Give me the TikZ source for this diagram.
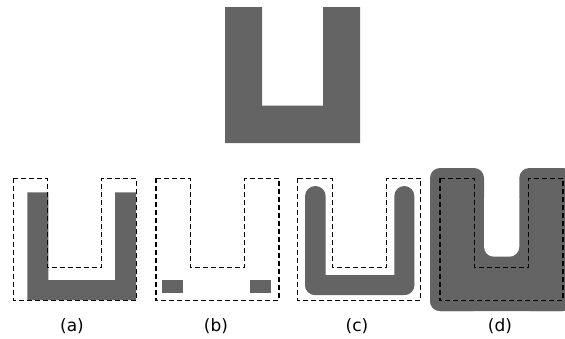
\documentclass[tikz,border=0pt]{standalone}
\usepackage{fontspec}
\setmainfont{DejaVu Sans}
\definecolor{shade}{RGB}{100,100,100}
\begin{document}
\begin{tikzpicture}[x=1pt,y=-1pt,
  solid/.style={fill=shade},
  outline/.style={draw=black,line width=1.3pt,dash pattern=on 5pt off 3pt},
  lab/.style={font=\fontsize{17}{20}\selectfont,inner sep=0pt}]
\useasboundingbox (0,0) rectangle (565,338);
\clip (0,0) rectangle (565,338);
% top U
\fill[solid] (225,7) -- (262,7) -- (262,105.5) -- (323,105.5) -- (323,7) -- (360,7) -- (360,143) -- (225,143) -- cycle;
% (a) eroded
\fill[solid] (27.3,192.3) -- (48.3,192.3) -- (48.3,280) -- (115,280) -- (115,192.3) -- (136,192.3) -- (136,300) -- (27.3,300) -- cycle;
% (b)
\fill[solid] (162,280) rectangle (182.7,293.3);
\fill[solid] (250,280) rectangle (270.7,293.3);
% (c)
\fill[solid,rounded corners=10.3pt] (305,186) rectangle (325.7,295);
\fill[solid,rounded corners=10pt] (394.3,186) rectangle (414.3,295);
\fill[solid,rounded corners=10pt] (305,275) rectangle (414.3,295);
% (d)
\fill[solid,rounded corners=10pt] (430,168) rectangle (484,311);
\fill[solid,rounded corners=10pt] (519.3,168) rectangle (573,311);
\fill[solid,rounded corners=10pt] (430,200) rectangle (573,311);
\fill[white,rounded corners=10pt] (484,190) rectangle (519.3,256.7);
% dashed outlines
\foreach \xo in {13.3,156,297.7,440}{
  \draw[outline] (\xo,178.3) -- (\xo+34.5,178.3) -- (\xo+34.5,267.3) -- (\xo+88.5,267.3) -- (\xo+88.5,178.3) -- (\xo+123,178.3) -- (\xo+123,300.5) -- (\xo,300.5) -- cycle;
}
% labels
\node[lab] (la) at (72,326) {(a)};
\node[lab] (lb) at (216,326) {(b)};
\node[lab] (lc) at (357,326) {(c)};
\node[lab] (ld) at (500,326) {(d)};
\end{tikzpicture}
\end{document}
